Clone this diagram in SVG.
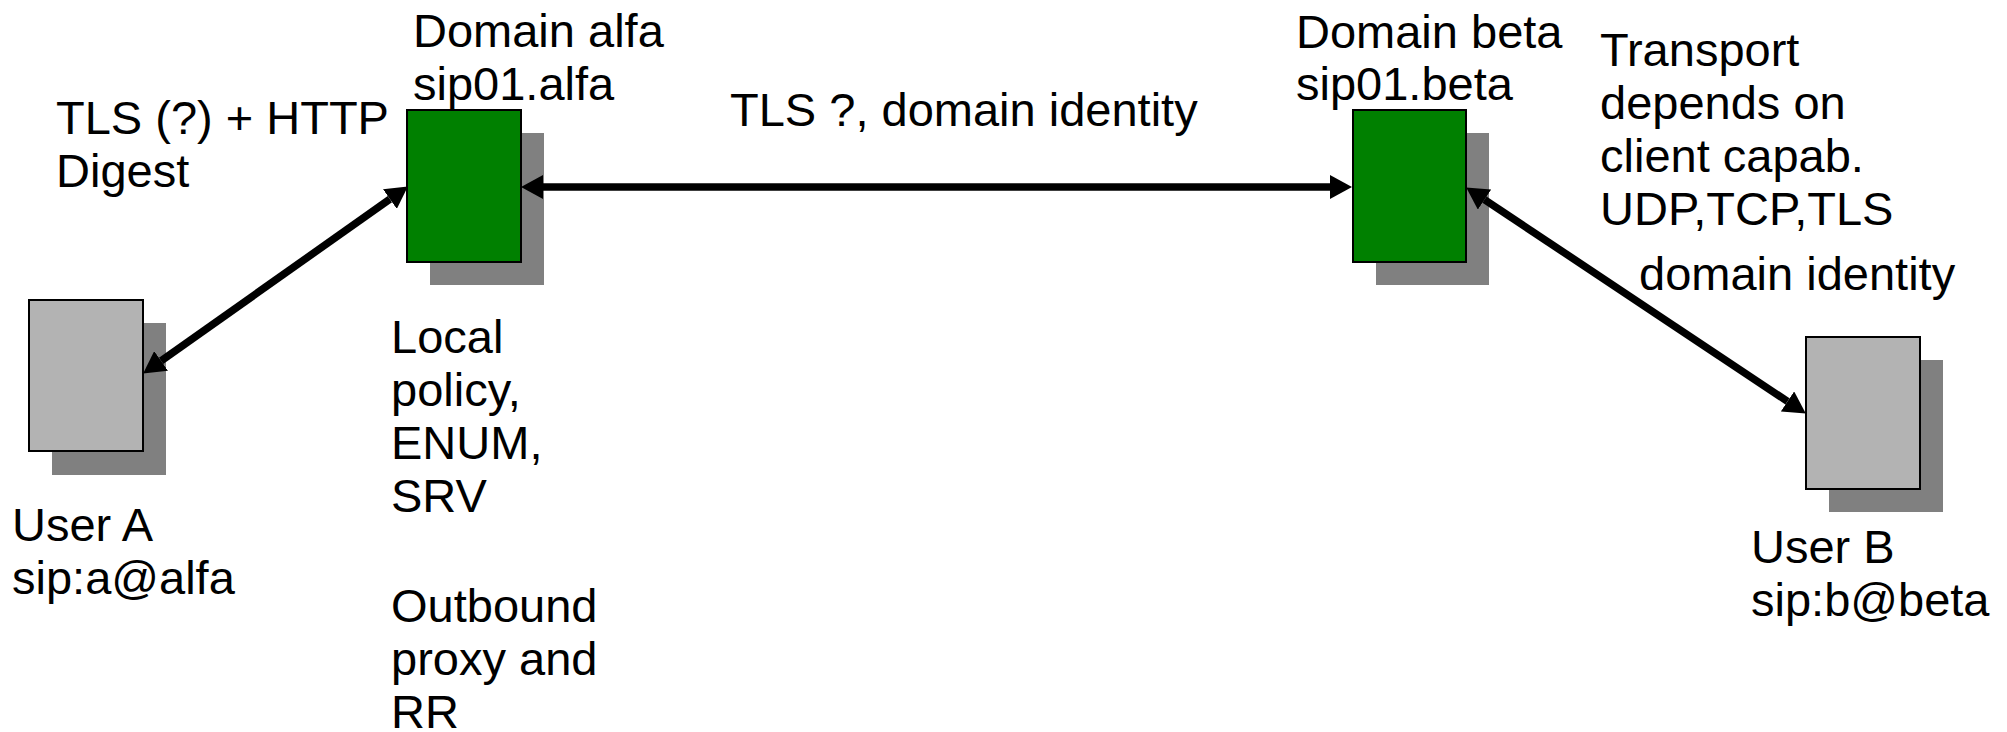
<svg xmlns="http://www.w3.org/2000/svg" width="2007" height="732" viewBox="0 0 2007 732">
<style>
  text { font-family: "Liberation Sans", Arial, sans-serif; font-size: 47px; fill: #000; }
  .shadow { fill: #808080; stroke: none; }
  .server { fill: #008000; stroke: #000; stroke-width: 2; }
  .user { fill: #b3b3b3; stroke: #000; stroke-width: 2; }
  .conn { stroke: #000; stroke-width: 7.5; fill: none; marker-start: url(#ah); marker-end: url(#ah); }
</style>
<defs>
  <marker id="ah" markerUnits="userSpaceOnUse" viewBox="0 -12 22 24" markerWidth="22" markerHeight="24" refX="0" refY="0" orient="auto-start-reverse">
    <path d="M0,-12 L22,0 L0,12 z" fill="#000"/>
  </marker>
</defs>
<rect width="2007" height="732" fill="#fff"/>

<g id="userA">
  <rect class="shadow" x="52" y="323" width="114" height="152"/>
  <rect class="user" x="29" y="300" width="114" height="151"/>
  <text x="12" y="541">User A</text>
  <text x="12" y="594">sip:a@alfa</text>
</g>

<g id="alfa">
  <rect class="shadow" x="430" y="133" width="114" height="152"/>
  <rect class="server" x="407" y="110" width="114" height="152"/>
  <text x="413" y="47">Domain alfa</text>
  <text x="413" y="100">sip01.alfa</text>
</g>

<g id="alfa-notes">
  <text x="391" y="353">Local</text>
  <text x="391" y="406">policy,</text>
  <text x="391" y="459">ENUM,</text>
  <text x="391" y="512">SRV</text>
  <text x="391" y="622">Outbound</text>
  <text x="391" y="675">proxy and</text>
  <text x="391" y="728">RR</text>
</g>

<g id="beta">
  <rect class="shadow" x="1376" y="133" width="113" height="152"/>
  <rect class="server" x="1353" y="110" width="113" height="152"/>
  <text x="1296" y="48">Domain beta</text>
  <text x="1296" y="100">sip01.beta</text>
</g>

<g id="beta-notes">
  <text x="1600" y="66">Transport</text>
  <text x="1600" y="119">depends on</text>
  <text x="1600" y="172">client capab.</text>
  <text x="1600" y="225">UDP,TCP,TLS</text>
</g>

<g id="userB">
  <rect class="shadow" x="1829" y="360" width="114" height="152"/>
  <rect class="user" x="1806" y="337" width="114" height="152"/>
  <text x="1751" y="563">User B</text>
  <text x="1751" y="616">sip:b@beta</text>
</g>

<g id="connectors">
  <path class="conn" d="M161.1,360.9 L389.9,199.1"/>
  <path class="conn" d="M543,187 L1330,187"/>
  <path class="conn" d="M1484.5,199.6 L1787.5,401.4"/>
  <text x="56" y="134">TLS (?) + HTTP</text>
  <text x="56" y="187">Digest</text>
  <text x="730" y="126">TLS ?, domain identity</text>
  <text x="1639" y="290">domain identity</text>
</g>
</svg>
